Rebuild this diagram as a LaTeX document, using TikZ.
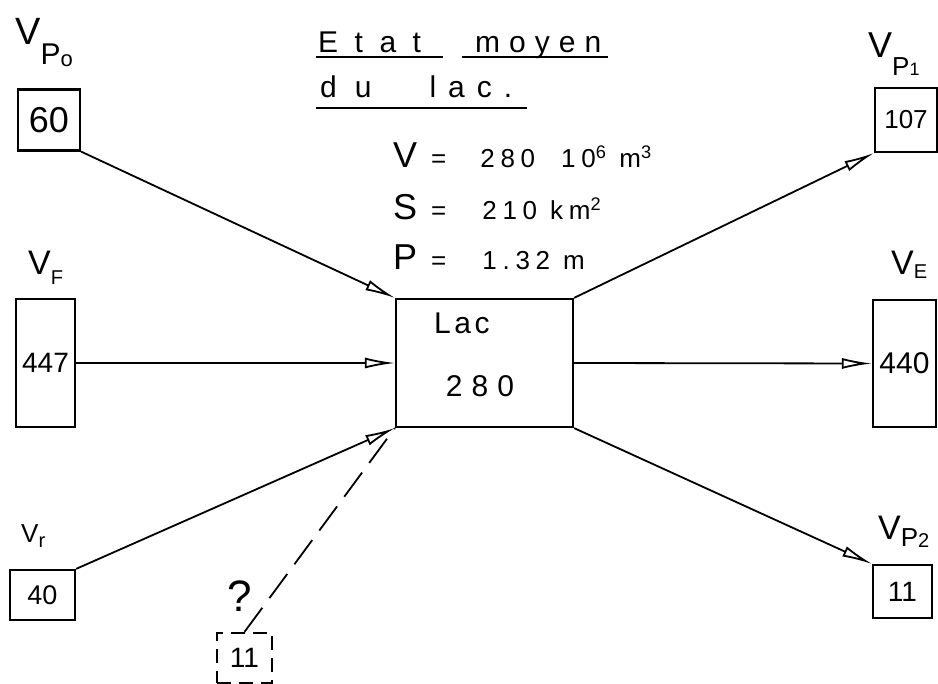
\documentclass[tikz,border=0pt]{standalone}
\usepackage{fontspec}
\setmainfont{Liberation Sans}
\usetikzlibrary{arrows.meta}
\newcommand\fsz[1]{\fontsize{#1}{#1}\selectfont}
\newcommand\spaced[1]{\addfontfeature{LetterSpace=#1}}
\begin{document}
\begin{tikzpicture}[x=1pt,y=-1pt,
  valbox/.style={draw,line width=2.2pt,inner sep=0pt,minimum width=#1},
  flow/.style={line width=1.8pt,->,>={Latex[open,length=30pt,width=11pt]}},
  lbl/.style={inner sep=0pt,anchor=base west},
  txt/.style={inner sep=0pt}]
\useasboundingbox (0,0) rectangle (938,684);
% left boxes
\node[valbox=62pt,minimum height=61pt,font=\fsz{36}] (p0box) at (49,120) {60};
\node[valbox=59pt,minimum height=128pt,font=\fsz{28}] (fbox) at (45.5,363) {447};
\node[valbox=65pt,minimum height=50pt,font=\fsz{27}] (rbox) at (42.5,595) {40};
\node[valbox=55pt,minimum height=50pt,font=\fsz{28},dash pattern=on 14pt off 8pt] (qbox) at (244.5,658) {11};
% lake
\node[valbox=177pt,minimum height=128pt] (lac) at (484.5,363) {};
\node[txt,font=\fsz{30}\spaced{12}] (lactxt) at (462,323) {Lac};
\node[txt,font=\fsz{30}\spaced{30}] (lacval) at (480,386) {280};
% right boxes
\node[valbox=62pt,minimum height=64pt,font=\fsz{26}] (p1box) at (906,120) {107};
\node[valbox=63pt,minimum height=127pt,font=\fsz{30}] (ebox) at (904.5,363.5) {440};
\node[valbox=59pt,minimum height=53pt,font=\fsz{28}] (p2box) at (902.5,591.5) {11};
% labels
\node[lbl] (p0lab) at (15,45) {\fsz{38}V\raisebox{-20pt}{\fsz{30}P}\raisebox{-22pt}{\fsz{22}o}};
\node[lbl] (flab) at (28,275) {\fsz{34}V\raisebox{-10pt}{\fsz{20}F}};
\node[lbl] (rlab) at (21,543) {\fsz{26}V\raisebox{-5pt}{\fsz{20}r}};
\node[lbl] (p1lab) at (868,58) {\fsz{36}V\raisebox{-18pt}{\fsz{26}P\fsz{18}1}};
\node[lbl] (elab) at (891,275) {\fsz{34}V\raisebox{-4pt}{\fsz{20}E}};
\node[lbl] (p2lab) at (878,540) {\fsz{34}V\raisebox{-6pt}{\fsz{26}P\raisebox{-2pt}{\fsz{20}2}}};
\node[txt,font=\fsz{44}] (qmark) at (240,596) {?};
% title
\node[lbl,font=\fsz{30}\spaced{55}] (t1) at (318,53) {Etat};
\node[lbl,font=\fsz{30}\spaced{30}] (t2) at (475,53) {moyen};
\node[lbl,font=\fsz{30}] (t3) at (320,98) {{\spaced{60}du}\hspace{58pt}{\spaced{40}lac.}};
\draw[line width=1.8pt] (316,57) -- (443,57) (462,57) -- (608,57) (316,108) -- (527,108);
% characteristics
\node[lbl] (vline) at (393,168) {\fsz{36}V\hspace{14pt}\fsz{26}=\hspace{34pt}\spaced{22}280\hspace{26pt}10\textsuperscript{6} m\textsuperscript{3}};
\node[lbl] (sline) at (393,220) {\fsz{36}S\hspace{14pt}\fsz{26}=\hspace{36pt}\spaced{22}210 km\textsuperscript{2}};
\node[lbl] (pline) at (393,270) {\fsz{36}P\hspace{14pt}\fsz{26}=\hspace{36pt}\spaced{22}1.32 m};
% flows
\draw[flow] (p0box.south east) -- (lac.north west);
\draw[flow] (fbox.east) -- (lac.west);
\draw[flow] (rbox.north east) -- (lac.south west);
\draw[line width=1.8pt,dash pattern=on 30pt off 12pt] (qbox.north) -- (lac.south west);
\draw[flow] (lac.north east) -- (p1box.south west);
\draw[flow] (lac.east) -- (ebox.west);
\draw[flow] (lac.south east) -- (p2box.north west);
\end{tikzpicture}
\end{document}
